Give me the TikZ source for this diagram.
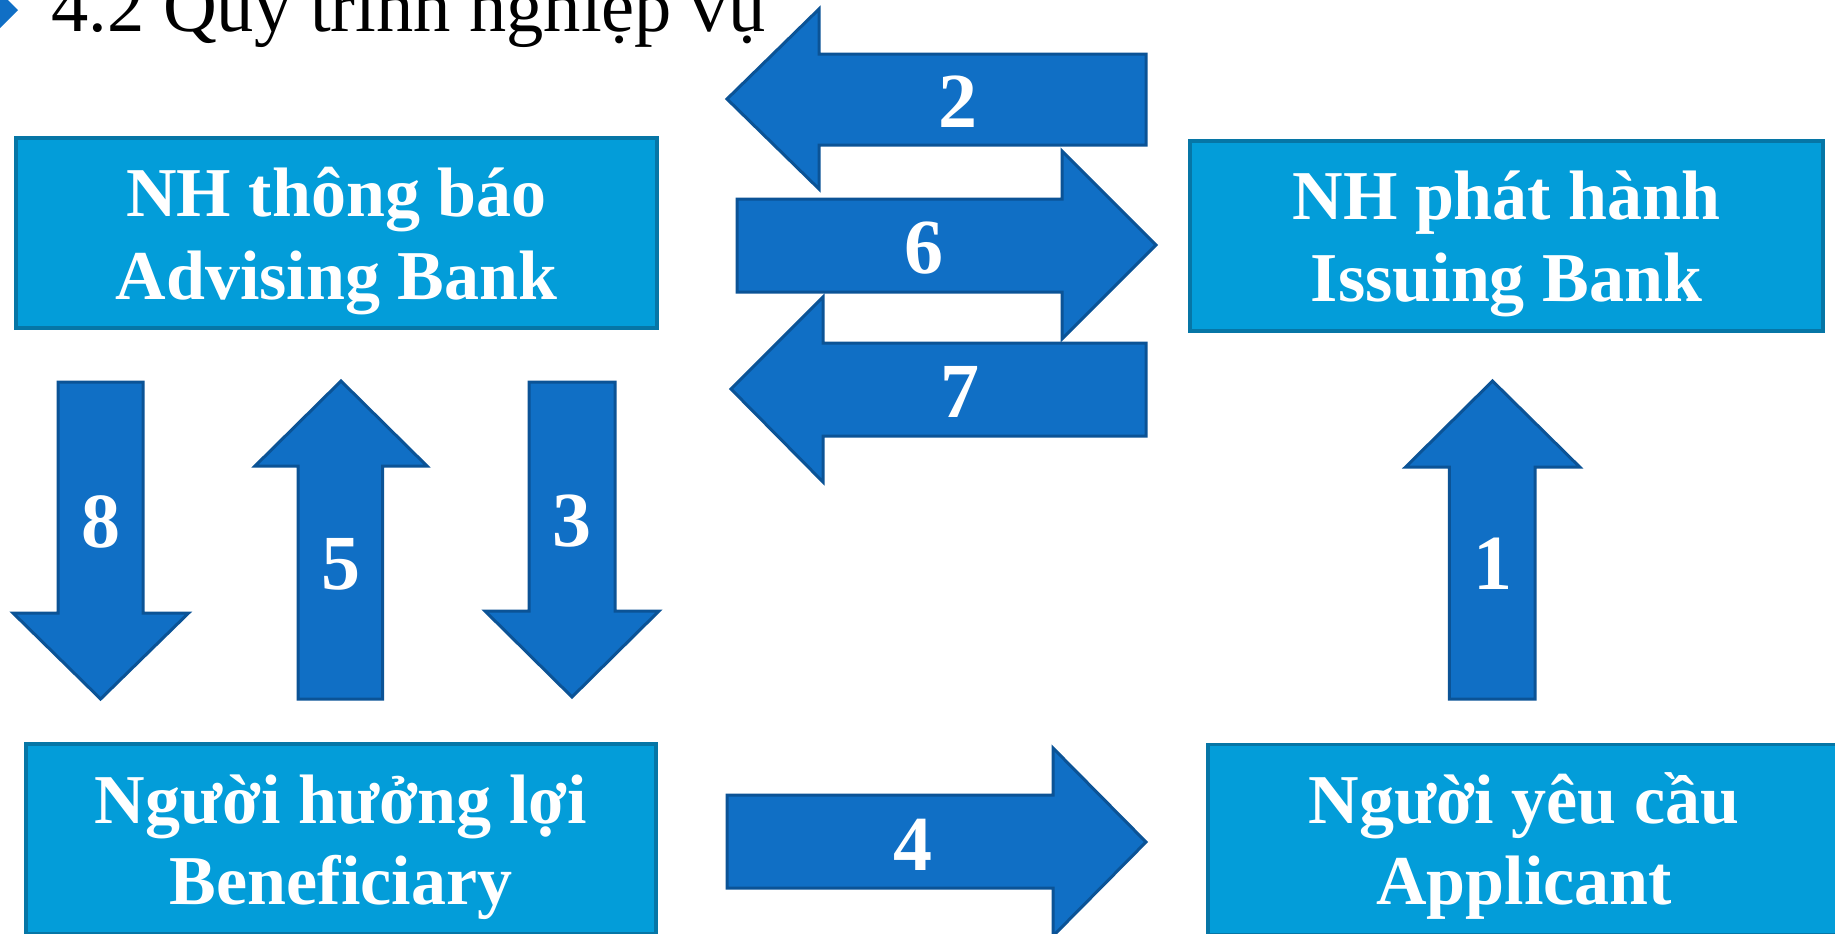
\documentclass[tikz,border=0pt]{standalone}
\usepackage{fontspec}
\setmainfont{Liberation Serif}
\definecolor{boxfill}{HTML}{039DD9}
\definecolor{boxline}{HTML}{0676A6}
\definecolor{arrowfill}{HTML}{106FC5}
\definecolor{arrowline}{HTML}{0B5396}
\begin{document}
\begin{tikzpicture}[x=0.5pt,y=-0.5pt,
  party/.style={draw=boxline, fill=boxfill, line width=1.6pt, rectangle, inner sep=0pt},
  partytext/.style={anchor=base, text=white, inner sep=0pt,
    font=\fontsize{35}{42}\selectfont\bfseries},
  flow/.style={draw=arrowline, fill=arrowfill, line width=1.5pt, line join=miter},
  steptext/.style={anchor=base, text=white, inner sep=0pt,
    font=\fontsize{39}{46}\selectfont\bfseries},
]
\useasboundingbox (0,0) rectangle (1835,933);
\clip (0,0) rectangle (1835,933);

% heading with its bullet
\fill[arrowfill] (0,-8) -- (18,10) -- (0,28) -- (-18,10) -- cycle;
\node[anchor=base west, inner sep=0pt, font=\fontsize{37.25}{44}\selectfont] (title) at (51,31) {4.2 Quy trình nghiệp vụ};

% the four parties
\node[party, minimum width=320.5pt, minimum height=95pt] (adv) at (336.5,233) {};
\node[partytext] (adv1) at (336.5,216.7) {NH thông báo};
\node[partytext] (adv2) at (336.5,299) {Advising Bank};

\node[party, minimum width=316.5pt, minimum height=95pt] (iss) at (1506.5,236) {};
\node[partytext] (iss1) at (1506.5,219) {NH phát hành};
\node[partytext] (iss2) at (1506.5,301.7) {Issuing Bank};

\node[party, minimum width=315pt, minimum height=95pt] (ben) at (341,839) {};
\node[partytext] (ben1) at (341,823) {Người hưởng lợi};
\node[partytext] (ben2) at (341,904) {Beneficiary};

\node[party, minimum width=316pt, minimum height=95pt] (app) at (1524,839.5) {};
\node[partytext] (app1) at (1524,823) {Người yêu cầu};
\node[partytext] (app2) at (1524,904) {Applicant};

% numbered steps as block arrows
% 1: applicant -> issuing bank
\draw[flow] (1492.5,381) -- (1579.7,467) -- (1535,467) -- (1535,699) -- (1449.4,699) -- (1449.4,467) -- (1405.6,467) -- cycle;
\node[steptext] (s1) at (1492.5,589) {1};
% 2: issuing bank -> advising bank
\draw[flow] (727,99) -- (819,9) -- (819,54) -- (1146,54) -- (1146,145) -- (819,145) -- (819,189) -- cycle;
\node[steptext] (s2) at (958,127.3) {2};
% 3: advising bank -> beneficiary
\draw[flow] (529,382) -- (615,382) -- (615,611) -- (659,611) -- (572,697) -- (485,611) -- (529,611) -- cycle;
\node[steptext] (s3) at (572,546.7) {3};
% 4: beneficiary -> applicant
\draw[flow] (727,795) -- (1053,795) -- (1053,748) -- (1146,842) -- (1053,936) -- (1053,888) -- (727,888) -- cycle;
\node[steptext] (s4) at (913,870) {4};
% 5: beneficiary -> advising bank
\draw[flow] (341,381) -- (427,466) -- (382.5,466) -- (382.5,699) -- (298,699) -- (298,466) -- (255,466) -- cycle;
\node[steptext] (s5) at (341,589) {5};
% 6: advising bank -> issuing bank
\draw[flow] (737,199) -- (1062,199) -- (1062,151) -- (1156,245) -- (1062,339) -- (1062,292) -- (737,292) -- cycle;
\node[steptext] (s6) at (924,273.3) {6};
% 7: issuing bank -> advising bank
\draw[flow] (731,389) -- (823,297) -- (823,343) -- (1146,343) -- (1146,436) -- (823,436) -- (823,482) -- cycle;
\node[steptext] (s7) at (960,417.3) {7};
% 8: advising bank -> beneficiary
\draw[flow] (58,382) -- (143,382) -- (143,613) -- (188.6,613) -- (100.6,699) -- (13,613) -- (58,613) -- cycle;
\node[steptext] (s8) at (100.6,547.7) {8};
\end{tikzpicture}
\end{document}
